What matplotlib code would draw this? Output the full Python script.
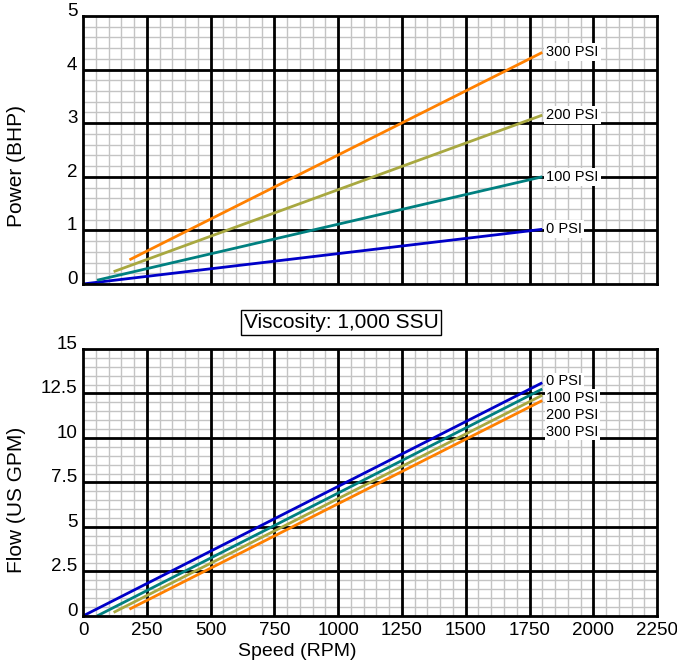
import matplotlib
matplotlib.use("Agg")
import matplotlib.pyplot as plt
import numpy as np

plt.rcParams["font.family"] = ["Liberation Sans", "DejaVu Sans"]

pressures = ["0 PSI", "100 PSI", "200 PSI", "300 PSI"]
colors = ["#0000c8", "#008080", "#a8a840", "#ff8000"]

# start / end points of each curve (speed RPM)
speed_start = [0, 55, 120, 182]
speed_end = [1800, 1800, 1800, 1800]

power_start = [0.0, 0.07, 0.23, 0.45]
power_end = [1.02, 2.0, 3.15, 4.32]

flow_start = [0.0, 0.0, 0.2, 0.38]
flow_end = [13.1, 12.75, 12.4, 12.1]

x_ticks = [0, 250, 500, 750, 1000, 1250, 1500, 1750, 2000, 2250]
power_ticks = [0, 1, 2, 3, 4, 5]
flow_ticks = [0, 2.5, 5, 7.5, 10, 12.5, 15]
flow_tick_labels = ["0", "2.5", "5", "7.5", "10", "12.5", "15"]

fig = plt.figure(figsize=(6.77, 6.66), dpi=100)
ax1 = fig.add_axes([0.1226, 0.5736, 0.848, 0.4024])
ax2 = fig.add_axes([0.1226, 0.0751, 0.848, 0.401])


def style(ax, ymax, ymajor, yminor):
    ax.set_xlim(0, 2250)
    ax.set_ylim(0, ymax)
    # graph-paper grid: light minor lines under heavy major lines
    for v in np.arange(0, 2250, 50):
        ax.axvline(v, color="#c4c4c4", lw=1.0, zorder=1)
    for v in np.arange(0, ymax, yminor):
        ax.axhline(v, color="#c4c4c4", lw=1.0, zorder=1)
    for v in np.arange(250, 2250, 250):
        ax.axvline(v, color="black", lw=2.0, zorder=2)
    for v in np.arange(ymajor, ymax, ymajor):
        ax.axhline(v, color="black", lw=2.0, zorder=2)
    for s in ax.spines.values():
        s.set_linewidth(2.0)
        s.set_zorder(5)
    ax.tick_params(which="both", length=0, labelsize=13.5, pad=4)


style(ax1, 5, 1, 0.2)
style(ax2, 15, 2.5, 0.5)

for i, p in enumerate(pressures):
    ax1.plot([speed_start[i], speed_end[i]], [power_start[i], power_end[i]],
             color=colors[i], lw=2, zorder=3, solid_capstyle="butt")
    ax1.text(speed_end[i] + 15, power_end[i], p, fontsize=10.5, va="center", ha="left",
             zorder=4, bbox=dict(facecolor="white", edgecolor="none", pad=1.5))
    ax2.plot([speed_start[i], speed_end[i]], [flow_start[i], flow_end[i]],
             color=colors[i], lw=2, zorder=3, solid_capstyle="butt")

flow_label_y = [13.2, 12.25, 11.3, 10.35]
for i, p in enumerate(pressures):
    ax2.text(1815, flow_label_y[i], p, fontsize=10.5, va="center", ha="left",
             zorder=4, bbox=dict(facecolor="white", edgecolor="none", pad=1.0))

ax1.set_xticks(x_ticks)
ax1.set_xticklabels([])
ax1.set_yticks(power_ticks)
ax2.set_xticks(x_ticks)
ax2.set_xticklabels([str(v) for v in x_ticks])
ax2.set_yticks(flow_ticks)
ax2.set_yticklabels(flow_tick_labels)
for ax in (ax1, ax2):
    for t in ax.get_yticklabels():
        t.set_va("baseline")

ax1.set_ylabel("Power (BHP)", fontsize=15)
ax2.set_ylabel("Flow (US GPM)", fontsize=15)
ax2.set_xlabel("Speed (RPM)", fontsize=14)
ax1.yaxis.set_label_coords(-0.099, 0.44)
ax2.yaxis.set_label_coords(-0.099, 0.435)
ax2.xaxis.set_label_coords(0.373, -0.1)

fig.text(0.504, 0.516, "Viscosity: 1,000 SSU", fontsize=15, ha="center", va="center",
         bbox=dict(facecolor="white", edgecolor="black", lw=1, pad=2))

fig.savefig("out.png", dpi=100)
